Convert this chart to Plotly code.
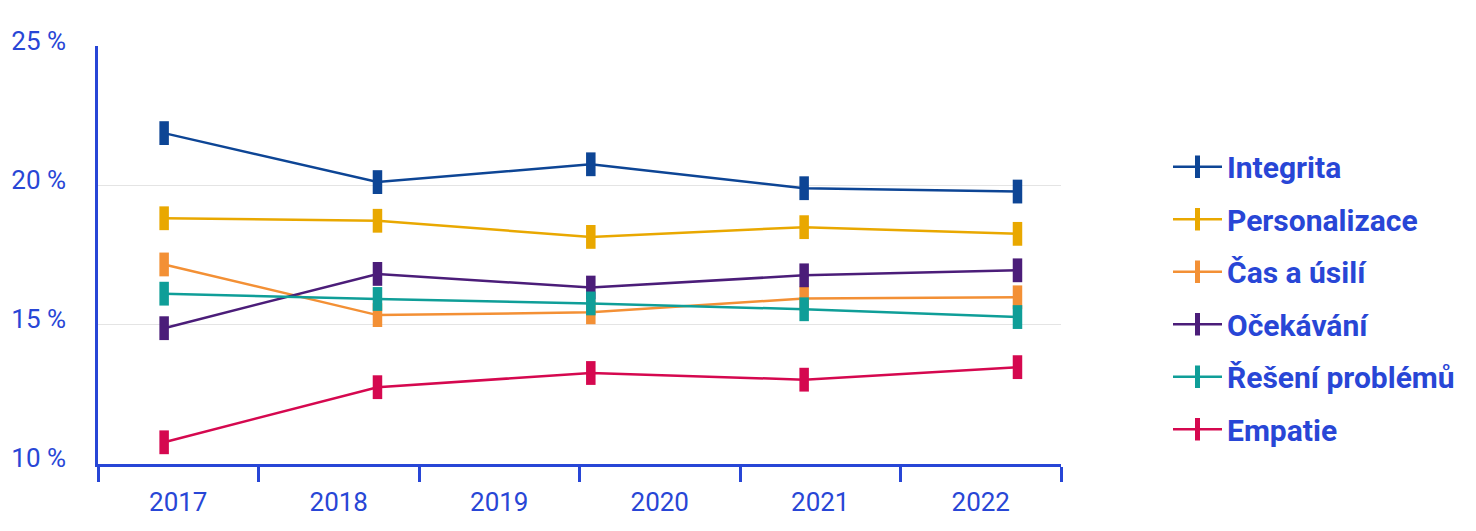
import plotly.graph_objects as go

years = ["2017", "2018", "2019", "2020", "2021", "2022"]
waves = [0, 1, 2, 3, 4]

series_names = ["Integrita", "Personalizace", "Čas a úsilí", "Očekávání", "Řešení problémů", "Empatie"]
integrita = [21.89, 20.13, 20.77, 19.91, 19.79]
personalizace = [18.83, 18.74, 18.16, 18.51, 18.27]
cas_a_usili = [17.17, 15.35, 15.45, 15.95, 15.99]
ocekavani = [14.88, 16.83, 16.34, 16.78, 16.96]
reseni_problemu = [16.12, 15.93, 15.77, 15.56, 15.28]
empatie = [10.78, 12.76, 13.27, 13.03, 13.48]

y_tickvals = [10, 15, 20, 25]
y_ticktext = ["10 %", "15 %", "20 %", "25 %"]

values = [integrita, personalizace, cas_a_usili, ocekavani, reseni_problemu, empatie]
colors = ["#0d4595", "#e9a800", "#f39035", "#4b1d79", "#0f9e98", "#d5084f"]
blue = "#2846d6"

fig = go.Figure()
for name, vals, col in zip(series_names, values, colors):
    fig.add_trace(go.Scatter(
        x=waves, y=vals, name=name, mode="lines+markers",
        legendgroup=name,
        line=dict(color=col, width=2.5),
        marker=dict(symbol="line-ns", size=17, color=col,
                    line=dict(color=col, width=9.5)),
        hoverinfo="skip",
    ))

# dummy trace to carry the year categories on the label axis
fig.add_trace(go.Scatter(x=years, y=[None] * len(years), xaxis="x2",
                         showlegend=False, hoverinfo="skip", mode="markers"))

fig.update_layout(
    width=1476, height=531,
    paper_bgcolor="white", plot_bgcolor="white",
    margin=dict(l=90, r=423, t=38, b=75),
    font=dict(family="Roboto", color=blue),
    xaxis=dict(range=[-0.31, 4.204], visible=False, automargin=False),
    xaxis2=dict(
        overlaying="x", anchor="y", side="bottom", type="category",
        categoryorder="array", categoryarray=years,
        range=[-0.5, 5.5], tickson="boundaries", automargin=False,
        showline=True, linecolor=blue, linewidth=2.5,
        ticks="outside", ticklen=15, tickwidth=2.5, tickcolor=blue,
        showgrid=False, zeroline=False,
        tickfont=dict(size=26, color=blue, family="Roboto"),
        ticklabelstandoff=13,
    ),
    yaxis=dict(
        range=[10, 25.02], tickvals=y_tickvals, ticktext=y_ticktext,
        automargin=False,
        showline=True, linecolor=blue, linewidth=2.5,
        showgrid=True, gridcolor="#e4e4e4", gridwidth=1,
        zeroline=False, ticks="",
        tickfont=dict(size=26, color=blue, family="Roboto"),
        ticklabelstandoff=24, ticklabelshift=-6,
    ),
    legend=dict(
        x=1160 / 1476, y=0.75, xref="container", yref="container",
        xanchor="left", yanchor="top",
        traceorder="grouped", tracegroupgap=10.5,
        font=dict(size=30, color=blue, family="Roboto", weight="bold"),
        itemwidth=49, bgcolor="rgba(0,0,0,0)", maxheight=520,
    ),
    showlegend=True,
)

fig.write_html("out.html")
